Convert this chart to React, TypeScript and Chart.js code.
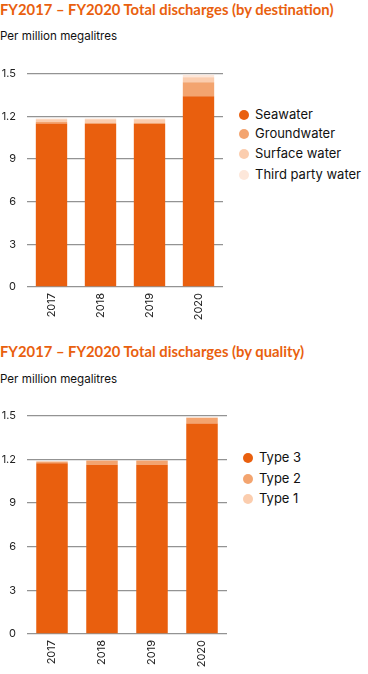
import React, { useEffect, useRef } from "react";
import { Chart, registerables } from "chart.js";
Chart.register(...registerables);

const years = ["2017", "2018", "2019", "2020"];
const seawater = [1.15, 1.145, 1.145, 1.34];
const groundwater = [0.01, 0.01, 0.01, 0.1];
const surfaceWater = [0.02, 0.025, 0.025, 0.034];
const thirdPartyWater = [0.004, 0.004, 0.004, 0.018];
const type3 = [1.172, 1.163, 1.163, 1.445];
const type2 = [0.012, 0.028, 0.028, 0.04];
const type1 = [0.001, 0.001, 0.001, 0.002];
const yTickLabels = ["0", "3", "6", "9", "1.2", "1.5"];

const title1 = "FY2017 – FY2020 Total discharges (by destination)";
const title2 = "FY2017 – FY2020 Total discharges (by quality)";
const subtitle = "Per million megalitres";

const C_DARK = "#E95F0E";
const C_MID = "#F3A46F";
const C_LIGHT = "#FBCDAE";
const C_PALE = "#FDE7DA";
const FONT = "Inter, 'Noto Sans', sans-serif";
const TITLE_FONT = "Lato, Inter, sans-serif";

type DS = { label: string; data: number[]; color: string };

function BarChart(props: { datasets: DS[]; left: number; top: number; width: number; height: number; barPct: number }) {
  const ref = useRef<HTMLCanvasElement | null>(null);
  useEffect(() => {
    if (!ref.current) return;
    const chart = new Chart(ref.current, {
      type: "bar",
      data: {
        labels: years,
        datasets: props.datasets.map((d) => ({
          label: d.label,
          data: d.data,
          backgroundColor: d.color,
          borderWidth: 0,
          categoryPercentage: 1,
          barPercentage: props.barPct,
          stack: "s",
        })),
      },
      options: {
        animation: false,
        responsive: false,
        devicePixelRatio: 1,
        layout: { padding: { top: 8, right: 2, left: 0, bottom: 0 } },
        plugins: { legend: { display: false }, tooltip: { enabled: false } },
        scales: {
          x: {
            stacked: true,
            grid: { display: false, drawTicks: false },
            border: { display: false },
            ticks: {
              color: "#222",
              font: { family: FONT, size: 11 },
              minRotation: 90,
              maxRotation: 90,
              padding: 6,
            },
            afterFit: (s: any) => {
              s.height = 36;
            },
          },
          y: {
            stacked: true,
            min: 0,
            max: 1.5,
            grid: { color: "#939393", lineWidth: 1.3, drawTicks: false },
            border: { display: false },
            ticks: {
              stepSize: 0.3,
              color: "#222",
              font: { family: FONT, size: 11 },
              padding: 11,
              callback: (_v: any, i: number) => yTickLabels[i],
            },
            afterFit: (s: any) => {
              s.width = 27;
            },
          },
        },
      },
    });
    return () => chart.destroy();
  }, []);
  return (
    <canvas
      ref={ref}
      width={props.width}
      height={props.height}
      style={{ position: "absolute", left: props.left, top: props.top, width: props.width, height: props.height }}
    />
  );
}

function Legend(props: { items: DS[]; dotX: number; textX: number; ys: number[] }) {
  return (
    <>
      {props.items.map((it, i) => (
        <React.Fragment key={it.label}>
          <div
            style={{
              position: "absolute",
              left: props.dotX - 5,
              top: props.ys[i] - 5,
              width: 10,
              height: 10,
              borderRadius: 5,
              background: it.color,
            }}
          />
          <div
            style={{
              position: "absolute",
              left: props.textX,
              top: props.ys[i] - 9,
              font: `13px ${FONT}`,
              lineHeight: "16px",
              color: "#111",
              whiteSpace: "nowrap",
            }}
          >
            {it.label}
          </div>
        </React.Fragment>
      ))}
    </>
  );
}

export default function App() {
  const ds1: DS[] = [
    { label: "Seawater", data: seawater, color: C_DARK },
    { label: "Groundwater", data: groundwater, color: C_MID },
    { label: "Surface water", data: surfaceWater, color: C_LIGHT },
    { label: "Third party water", data: thirdPartyWater, color: C_PALE },
  ];
  const ds2: DS[] = [
    { label: "Type 3", data: type3, color: C_DARK },
    { label: "Type 2", data: type2, color: C_MID },
    { label: "Type 1", data: type1, color: C_LIGHT },
  ];
  const titleStyle: React.CSSProperties = {
    position: "absolute",
    left: 0,
    font: `700 14.8px ${TITLE_FONT}`,
    lineHeight: "18px",
    color: C_DARK,
    whiteSpace: "nowrap",
  };
  const subStyle: React.CSSProperties = {
    position: "absolute",
    left: 0,
    font: `11.6px ${FONT}`,
    lineHeight: "15px",
    color: "#111",
    whiteSpace: "nowrap",
  };
  return (
    <div style={{ position: "fixed", left: 0, top: 0, width: 368, height: 674, background: "#fff", overflow: "hidden" }}>
      <div style={{ ...titleStyle, top: 0 }}>{title1}</div>
      <div style={{ ...subStyle, top: 29 }}>{subtitle}</div>
      <BarChart datasets={ds1} left={0} top={56} width={225} height={267} barPct={0.64} />
      <Legend items={ds1} dotX={243.5} textX={255} ys={[115, 134, 154, 175]} />

      <div style={{ ...titleStyle, top: 342 }}>{title2}</div>
      <div style={{ ...subStyle, top: 372 }}>{subtitle}</div>
      <BarChart datasets={ds2} left={0} top={398} width={229} height={272} barPct={0.63} />
      <Legend items={ds2} dotX={247.7} textX={259} ys={[458, 479, 499]} />
    </div>
  );
}
